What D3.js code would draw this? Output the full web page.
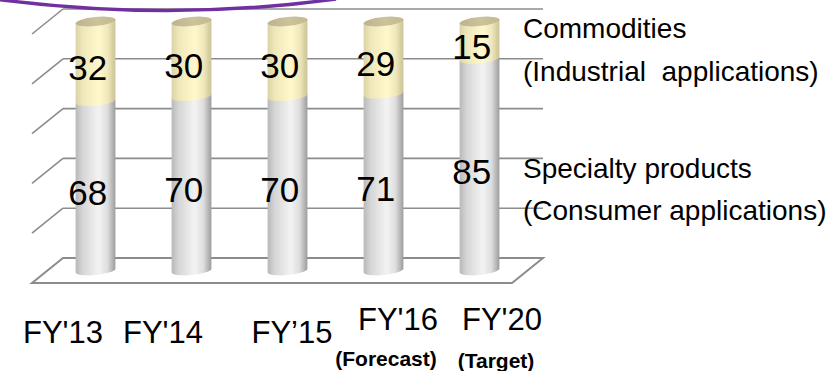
<!DOCTYPE html>
<html>
<head>
<meta charset="utf-8">
<script src="https://cdn.jsdelivr.net/npm/d3@7"></script>
<style>
  html, body { margin: 0; padding: 0; background: #fff; }
  svg { display: block; font-family: "Liberation Sans", Arial, Helvetica, sans-serif; }
</style>
</head>
<body>
<svg id="chart" width="830" height="371"></svg>
<script>
// Product mix by fiscal year (% of sales)
const categories = ["FY'13", "FY'14", "FY\u201915", "FY'16", "FY'20"];
const categoryNotes = ["", "", "", "(Forecast)", "(Target)"];
const specialtyShare = [68, 70, 70, 71, 85];
const commodityShare = [32, 30, 30, 29, 15];
const gridValues = [0, 20, 40, 60, 80, 100];
const legendCommodities = ["Commodities", "(Industrial  applications)"];
const legendSpecialty = ["Specialty products", "(Consumer applications)"];

const svg = d3.select("#chart");

// Back wall frame and oblique depth projection
const x = d3.scaleBand().domain(categories).range([63, 543]);
const y = d3.scaleLinear().domain([0, 100]).range([258, 9]);
const depth = { dx: -31, dy: 25 };
const barDepth = 0.5, labelDepth = 0.75;
const radius = 20, capRy = 4.5, tiltDeg = -5.7;
const tilt = tiltDeg * Math.PI / 180;
const ex = radius * Math.cos(tilt), ey = radius * Math.sin(tilt);

const defs = svg.append("defs");
function hGradient(id, stops) {
  const g = defs.append("linearGradient").attr("id", id)
    .attr("x1", "0%").attr("x2", "100%").attr("y1", "0%").attr("y2", "0%");
  stops.forEach(([o, c]) => g.append("stop").attr("offset", o).attr("stop-color", c));
}
hGradient("gSpec", [["0%", "#b9b9b9"], ["18%", "#d6d6d6"], ["58%", "#f3f3f3"], ["80%", "#dedede"], ["100%", "#9c9c9c"]]);
hGradient("gComm", [["0%", "#dcd3a4"], ["18%", "#efe7ba"], ["58%", "#fff8cc"], ["80%", "#f1e9bd"], ["100%", "#cbc194"]]);
hGradient("gCap", [["0%", "#bdb48d"], ["55%", "#ccc39c"], ["100%", "#c2b891"]]);

// Walls, gridlines and floor
const grid = svg.append("g").attr("stroke", "#8c8c8c").attr("fill", "none");
const [x0, x1] = x.range();
grid.append("path")
  .attr("d", `M${x0},${y(0)} L${x1},${y(0)} L${x1 + depth.dx},${y(0) + depth.dy} L${x0 + depth.dx},${y(0) + depth.dy} Z`)
  .attr("fill", "#fff").attr("stroke-width", 2);
grid.selectAll("line.h").data(gridValues.filter(v => v > 0)).join("line")
  .attr("class", "h")
  .attr("x1", x0).attr("x2", x1)
  .attr("y1", d => y(d)).attr("y2", d => y(d))
  .attr("stroke-width", 1.6);
grid.selectAll("line.d").data(gridValues.filter(v => v > 0)).join("line")
  .attr("class", "d")
  .attr("x1", x0).attr("y1", d => y(d))
  .attr("x2", x0 + depth.dx).attr("y2", d => y(d) + depth.dy)
  .attr("stroke-width", 1.6);

// Stacked cylinders
const stacks = categories.map((c, i) => ({
  cat: c,
  segs: [
    { v0: 0, v1: specialtyShare[i], fill: "url(#gSpec)" },
    { v0: specialtyShare[i], v1: specialtyShare[i] + commodityShare[i], fill: "url(#gComm)" }
  ]
}));

const bars = svg.append("g");
stacks.forEach(s => {
  const cx = x(s.cat) + x.bandwidth() / 2 + depth.dx * barDepth;
  const off = depth.dy * barDepth;
  s.segs.forEach(seg => {
    const yb = y(seg.v0) + off, yt = y(seg.v1) + off;
    bars.append("path")
      .attr("d", `M${cx - ex},${yt - ey} L${cx - ex},${yb - ey} ` +
                 `A${radius},${capRy} ${tiltDeg} 0 0 ${cx + ex},${yb + ey} ` +
                 `L${cx + ex},${yt + ey} Z`)
      .attr("fill", seg.fill);
  });
  const top = s.segs[s.segs.length - 1];
  const cy = y(top.v1) + off;
  bars.append("ellipse")
    .attr("cx", cx).attr("cy", cy)
    .attr("rx", radius).attr("ry", capRy)
    .attr("transform", `rotate(${tiltDeg},${cx},${cy})`)
    .attr("fill", "url(#gCap)");
});

// Value labels
const labels = svg.append("g").attr("font-size", 35).attr("fill", "#000").attr("text-anchor", "middle");
stacks.forEach(s => {
  const lx = x(s.cat) + x.bandwidth() / 2 + depth.dx * labelDepth;
  s.segs.forEach(seg => {
    labels.append("text")
      .attr("x", lx)
      .attr("y", y((seg.v0 + seg.v1) / 2) + depth.dy * labelDepth)
      .attr("dy", "0.36em")
      .text(seg.v1 - seg.v0);
  });
});

// Category labels under the floor
const tickNudge = [[-48, 85], [-44, 85], [-11, 85], [-1, 72], [7, 72]];
const noteNudge = [[0, 0], [0, 0], [0, 0], [-13, 108], [1, 110]];
const axisG = svg.append("g").attr("text-anchor", "middle").attr("fill", "#000");
categories.forEach((c, i) => {
  const bx = x(c) + x.bandwidth() / 2;
  axisG.append("text")
    .attr("x", bx + tickNudge[i][0]).attr("y", y(0) + tickNudge[i][1])
    .attr("font-size", 31).text(c);
  if (categoryNotes[i]) {
    axisG.append("text")
      .attr("x", bx + noteNudge[i][0]).attr("y", y(0) + noteNudge[i][1])
      .attr("font-size", 21).attr("font-weight", "bold").text(categoryNotes[i]);
  }
});

// Series captions on the right
const legend = svg.append("g").attr("font-size", 28).attr("fill", "#000");
legend.selectAll("text.c").data(legendCommodities).join("text")
  .attr("class", "c").attr("xml:space", "preserve")
  .attr("x", 523).attr("y", (d, i) => 38 + i * 43).text(d => d);
legend.selectAll("text.s").data(legendSpecialty).join("text")
  .attr("class", "s").attr("xml:space", "preserve")
  .attr("x", 523).attr("y", (d, i) => 178 + i * 42).text(d => d);

// Purple accent arc along the top edge
svg.append("path")
  .attr("d", "M-6,-1 Q168,22 336,-1")
  .attr("fill", "none").attr("stroke", "#7030a0").attr("stroke-width", 3.5);
</script>
</body>
</html>
